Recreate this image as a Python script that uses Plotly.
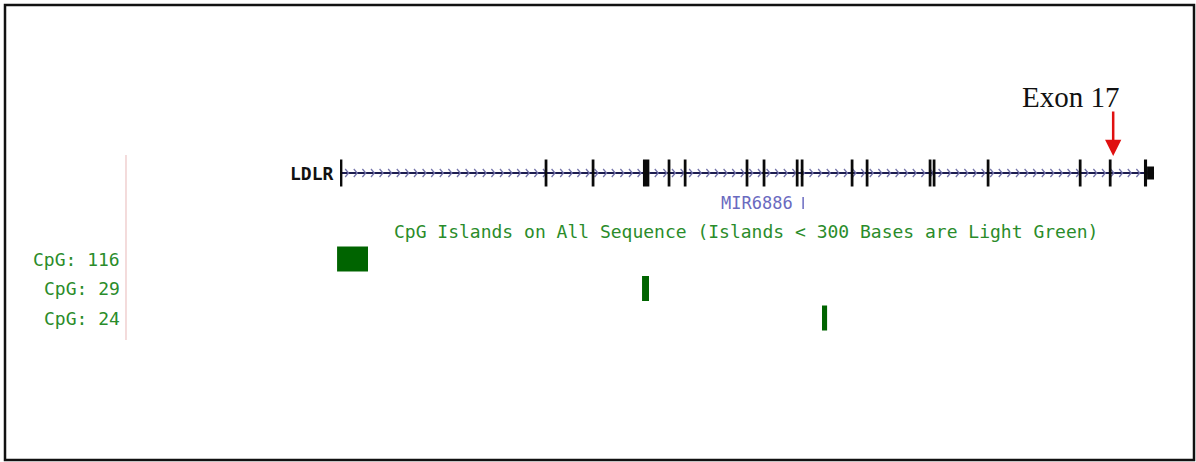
import plotly.graph_objects as go

# ---- data (positions in kb from LDLR transcription start) ----
gene_name = "LDLR"
gene_start_kb = 0.0
gene_end_kb = 44.47
exon_start_kb = [0.00, 11.18, 13.75, 16.55, 17.90, 18.78, 22.16, 23.09, 24.90, 25.17,
                 27.90, 28.72, 32.16, 32.38, 35.33, 40.36, 42.00, 43.92]
exon_end_kb = [0.13, 11.33, 13.90, 16.90, 18.05, 18.93, 22.31, 23.24, 25.05, 25.32,
               28.05, 28.87, 32.31, 32.53, 35.48, 40.51, 42.15, 44.09]
utr_start_kb = [44.09]
utr_end_kb = [44.47]
exon_label_index = 16  # Exon 17
exon_label = "Exon 17"

mir_name = "MIR6886"
mir_pos_kb = 25.30

cpg_labels = ["CpG: 116", "CpG: 29", "CpG: 24"]
cpg_start_kb = [-0.16, 16.50, 26.33]
cpg_end_kb = [1.53, 16.88, 26.61]
cpg_track_title = "CpG Islands on All Sequence (Islands < 300 Bases are Light Green)"

# ---- layout constants ----
W, H = 1196, 462
PX_PER_KB = 18.305
ORIGIN_PX = 340
ROW_PX = 29.5
ROW0_PX = 259
def kb_of_px(p):
    return (p - ORIGIN_PX) / PX_PER_KB
def row_of_px(p):
    return (p - ROW0_PX) / ROW_PX

GENE_Y = row_of_px(173)
EXON_HALF = 13.5 / ROW_PX
UTR_HALF = 6.5 / ROW_PX
CPG_HALF = 12.5 / ROW_PX

fig = go.Figure()
shapes = []

# gene backbone
fig.add_trace(go.Scatter(x=[gene_start_kb, gene_end_kb], y=[GENE_Y, GENE_Y], mode="lines",
                         line=dict(color="#1c1c50", width=2), hoverinfo="skip", showlegend=False))
# intron chevrons
step = 8.6 / PX_PER_KB
dx = 3.4 / PX_PER_KB
dy = 4.0 / ROW_PX
cx, cy = [], []
p = gene_start_kb + step
while p < gene_end_kb - 0.1:
    cx += [p - dx, p, p - dx, None]
    cy += [GENE_Y - dy, GENE_Y, GENE_Y + dy, None]
    p += step
fig.add_trace(go.Scatter(x=cx, y=cy, mode="lines", line=dict(color="#7474aa", width=1.3),
                         hoverinfo="skip", showlegend=False))

for s, e in zip(exon_start_kb, exon_end_kb):
    shapes.append(dict(type="rect", xref="x", yref="y", x0=s, x1=e,
                       y0=GENE_Y - EXON_HALF, y1=GENE_Y + EXON_HALF,
                       fillcolor="#0a0a0a", line=dict(width=0)))
for s, e in zip(utr_start_kb, utr_end_kb):
    shapes.append(dict(type="rect", xref="x", yref="y", x0=s, x1=e,
                       y0=GENE_Y - UTR_HALF, y1=GENE_Y + UTR_HALF,
                       fillcolor="#0a0a0a", line=dict(width=0)))

# CpG islands
for i, (s, e) in enumerate(zip(cpg_start_kb, cpg_end_kb)):
    shapes.append(dict(type="rect", xref="x", yref="y", x0=s, x1=e,
                       y0=i - CPG_HALF, y1=i + CPG_HALF,
                       fillcolor="#006400", line=dict(width=0)))

# miRNA tick
MIR_Y = row_of_px(203)
shapes.append(dict(type="line", xref="x", yref="y", x0=mir_pos_kb, x1=mir_pos_kb,
                   y0=MIR_Y - 6 / ROW_PX, y1=MIR_Y + 6 / ROW_PX,
                   line=dict(color="#6a6ac0", width=1.5)))

# label-area separator
shapes.append(dict(type="line", xref="x", yref="y", x0=kb_of_px(126), x1=kb_of_px(126),
                   y0=row_of_px(155), y1=row_of_px(340), line=dict(color="#ecc4c4", width=1.2)))

# frame
shapes.append(dict(type="rect", xref="paper", yref="paper", x0=5 / W, x1=1194 / W,
                   y0=1 - 460 / H, y1=1 - 5 / H, line=dict(color="#111111", width=2.5)))

mono = "DejaVu Sans Mono"
ann = []
ann.append(dict(x=kb_of_px(336), y=GENE_Y, text="<b>" + gene_name + "</b>", showarrow=False,
                xanchor="right", font=dict(family=mono, size=18, color="#111111")))
ann.append(dict(x=mir_pos_kb - 8 / PX_PER_KB, y=MIR_Y, text=mir_name, showarrow=False,
                xanchor="right", font=dict(family=mono, size=17, color="#6a6ac0")))
ann.append(dict(x=kb_of_px(746), y=row_of_px(231), text=cpg_track_title, showarrow=False,
                font=dict(family=mono, size=18, color="#2a8c2a")))
for i, lab in enumerate(cpg_labels):
    ann.append(dict(x=kb_of_px(122), y=i, text=lab, showarrow=False, xanchor="right",
                    font=dict(family=mono, size=18, color="#2a8c2a")))
ex17 = (exon_start_kb[exon_label_index] + exon_end_kb[exon_label_index]) / 2
ann.append(dict(x=ex17 + 3 / PX_PER_KB, y=row_of_px(156), text="", showarrow=True, ax=0, ay=-46,
                arrowhead=2, arrowsize=1.3, arrowwidth=2.5, arrowcolor="#e01010"))
ann.append(dict(x=kb_of_px(1121), y=row_of_px(97), text=exon_label, showarrow=False, xanchor="right",
                font=dict(family="Liberation Serif", size=29, color="#111111")))

fig.update_layout(
    width=W, height=H, margin=dict(l=0, r=0, t=0, b=0),
    paper_bgcolor="white", plot_bgcolor="white",
    xaxis=dict(range=[kb_of_px(0), kb_of_px(W)], visible=False, fixedrange=True),
    yaxis=dict(range=[row_of_px(H), row_of_px(0)], visible=False, fixedrange=True),
    shapes=shapes, annotations=ann, showlegend=False,
)
fig.write_html("out.html", post_script="document.body.style.margin='0';", config={"displayModeBar": False})
